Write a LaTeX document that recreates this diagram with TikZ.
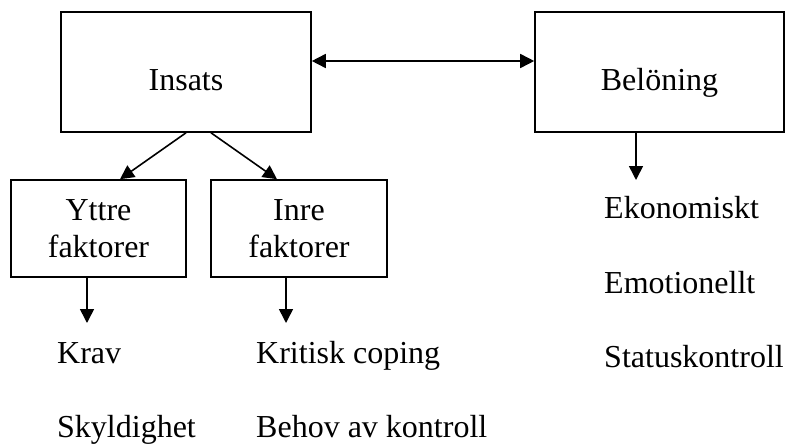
\documentclass[tikz,border=0pt]{standalone}
\usepackage{fontspec}
\setmainfont{Liberation Serif}
\usetikzlibrary{arrows.meta}
\begin{document}
\begin{tikzpicture}[x=1pt,y=-1pt,
  box/.style={draw, line width=1.6pt, rectangle, inner sep=0pt},
  arr/.style={line width=1.6pt, -{Triangle[length=14pt,width=14pt]}},
  darr/.style={line width=1.6pt, {Triangle[length=14pt,width=14pt]}-{Triangle[length=14pt,width=14pt]}},
  txt/.style={font=\fontsize{32}{37}\selectfont, inner sep=0pt, anchor=base},
  item/.style={txt, anchor=base west}]
\useasboundingbox (0,0) rectangle (786,444);
% boxes
\node[box, minimum width=250pt, minimum height=120pt] (insats) at (186,72) {};
\node[txt] (insatsT) at (186,90) {Insats};
\node[box, minimum width=249pt, minimum height=120pt] (bel) at (659.5,72) {};
\node[txt] (belT) at (659.5,90) {Belöning};
\node[box, minimum width=175pt, minimum height=97pt, align=center, font=\fontsize{32}{37}\selectfont] (yttre) at (98.5,228.5) {Yttre\\faktorer};
\node[box, minimum width=176pt, minimum height=97pt, align=center, font=\fontsize{32}{37}\selectfont] (inre) at (299,228.5) {Inre\\faktorer};
% items
\node[item] (krav) at (57,363) {Krav};
\node[item] (skyld) at (57,437) {Skyldighet};
\node[item] (krit) at (256,363) {Kritisk coping};
\node[item] (behov) at (256,437) {Behov av kontroll};
\node[item] (ekon) at (604,218) {Ekonomiskt};
\node[item] (emot) at (604,293) {Emotionellt};
\node[item] (status) at (604,367) {Statuskontroll};
% end points
\coordinate (yEnd) at (87,323);
\coordinate (iEnd) at (286,323);
\coordinate (bEnd) at (636,180);
% connectors
\draw[darr] ([yshift=11pt]insats.east) -- ([yshift=11pt]bel.west);
\draw[arr] (insats.south) -- ([xshift=21.5pt]yttre.north);
\draw[arr] ([xshift=25pt]insats.south) -- ([xshift=-22pt]inre.north);
\draw[arr] ([xshift=-11.5pt]yttre.south) -- (yEnd);
\draw[arr] ([xshift=-13pt]inre.south) -- (iEnd);
\draw[arr] ([xshift=-23.5pt]bel.south) -- (bEnd);
\end{tikzpicture}
\end{document}
